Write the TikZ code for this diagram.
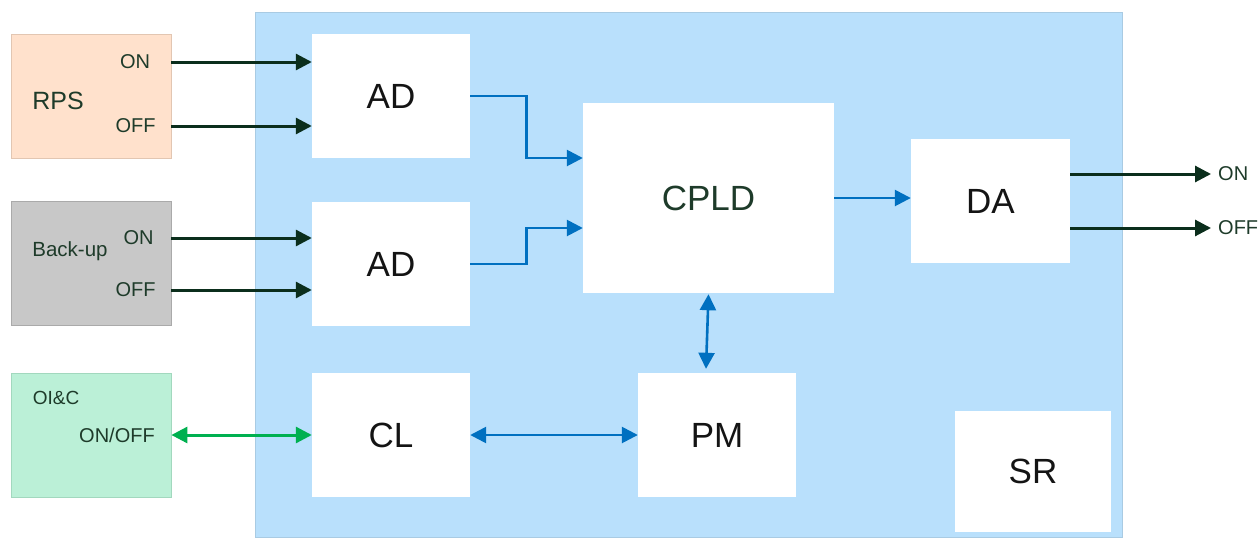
\documentclass[tikz,border=0pt]{standalone}
\usepackage{fontspec}
\setmainfont{Liberation Sans}
\usetikzlibrary{arrows.meta}
\definecolor{bgblue}{HTML}{B9E0FC}
\definecolor{bgblueline}{HTML}{A9CBE3}
\definecolor{peach}{HTML}{FFE1CC}
\definecolor{peachline}{HTML}{E2C6B2}
\definecolor{greybox}{HTML}{C8C8C8}
\definecolor{greyline}{HTML}{AAAAAA}
\definecolor{mint}{HTML}{BBF0D7}
\definecolor{mintline}{HTML}{A2D8BE}
\definecolor{labtext}{HTML}{1E3B2A}
\definecolor{darkarrow}{HTML}{0B2E1C}
\definecolor{bluearrow}{HTML}{0070C0}
\definecolor{greenarrow}{HTML}{00B050}
\tikzset{
  whitebox/.style={fill=white, draw=none, inner sep=0pt, font=\fontsize{35}{38}\selectfont, text=black!92},
  srcbox/.style={inner sep=0pt, line width=0.8pt, minimum width=160pt, minimum height=124pt},
  lab/.style={inner sep=0pt, text=labtext, font=\fontsize{20}{22}\selectfont},
  darr/.style={draw=darkarrow, line width=3pt, -{Triangle[length=16pt,width=16pt]}},
  barr/.style={draw=bluearrow, line width=2.6pt, -{Triangle[length=16pt,width=16pt]}},
  bbarr/.style={draw=bluearrow, line width=2.6pt, {Triangle[length=16pt,width=16pt]}-{Triangle[length=16pt,width=16pt]}},
  garr/.style={draw=greenarrow, line width=3pt, {Triangle[length=16pt,width=16pt]}-{Triangle[length=16pt,width=16pt]}}
}
\begin{document}
\begin{tikzpicture}[x=1pt,y=-1pt]
\useasboundingbox (0,0) rectangle (1258,538);
% main panel
\node[fill=bgblue, draw=bgblueline, line width=0.8pt, inner sep=0pt, minimum width=867pt, minimum height=525pt] (panel) at (688.5,274.5) {};
% source boxes
\node[srcbox, fill=peach, draw=peachline] (rps) at (91,96) {};
\node[srcbox, fill=greybox, draw=greyline] (backup) at (91,263) {};
\node[srcbox, fill=mint, draw=mintline] (oic) at (91,435) {};
% source labels
\node[lab, font=\fontsize{25}{28}\selectfont] (rpslab) at (58,101) {RPS};
\node[lab] (rpson) at (135,62) {ON};
\node[lab] (rpsoff) at (135.5,126) {OFF};
\node[lab, font=\fontsize{20.5}{22}\selectfont] (bulab) at (70,251) {Back-up};
\node[lab] (buon) at (138.5,238) {ON};
\node[lab] (buoff) at (135.5,290) {OFF};
\node[lab, font=\fontsize{19}{21}\selectfont] (oiclab) at (56,398) {OI\&C};
\node[lab] (oiconoff) at (117,435) {ON/OFF};
% inner boxes
\node[whitebox, minimum width=158pt, minimum height=124pt] (ad1) at (391,96) {AD};
\node[whitebox, minimum width=158pt, minimum height=124pt] (ad2) at (391,264) {AD};
\node[whitebox, minimum width=158pt, minimum height=124pt] (cl) at (391,435) {CL};
\node[whitebox, text=labtext, minimum width=251pt, minimum height=190pt] (cpld) at (708.5,198) {CPLD};
\node[whitebox, minimum width=159pt, minimum height=124pt] (da) at (990.5,201) {DA};
\node[whitebox, minimum width=158pt, minimum height=124pt] (pm) at (717,435) {PM};
\node[whitebox, minimum width=156pt, minimum height=121pt] (sr) at (1033,471.5) {SR};
% output labels
\node[lab, anchor=west] (daon) at (1218,174) {ON};
\node[lab, anchor=west] (daoff) at (1218,228) {OFF};
% input arrows
\draw[darr] (rps.east |- rpson) -- (ad1.west |- rpson);
\draw[darr] (rps.east |- rpsoff) -- (ad1.west |- rpsoff);
\draw[darr] (backup.east |- buon) -- (ad2.west |- buon);
\draw[darr] (backup.east |- buoff) -- (ad2.west |- buoff);
\draw[garr] (oic.east |- oiconoff) -- (cl.west |- oiconoff);
% internal arrows
\draw[barr] (ad1.east) -- ++(56,0) |- ([yshift=40pt]cpld.west);
\draw[barr] (ad2.east) -- ++(56,0) |- ([yshift=-30pt]cpld.west);
\draw[barr] (cpld.east) -- (cpld.east -| da.west);
\draw[bbarr] ([yshift=-1pt]cpld.south) -- ([xshift=-11pt,yshift=4pt]pm.north);
\draw[bbarr] (cl) -- (pm);
% output arrows
\draw[darr] (da.east |- daon) -- ([xshift=-7pt]daon.west);
\draw[darr] (da.east |- daoff) -- ([xshift=-7pt]daoff.west);
\end{tikzpicture}
\end{document}
